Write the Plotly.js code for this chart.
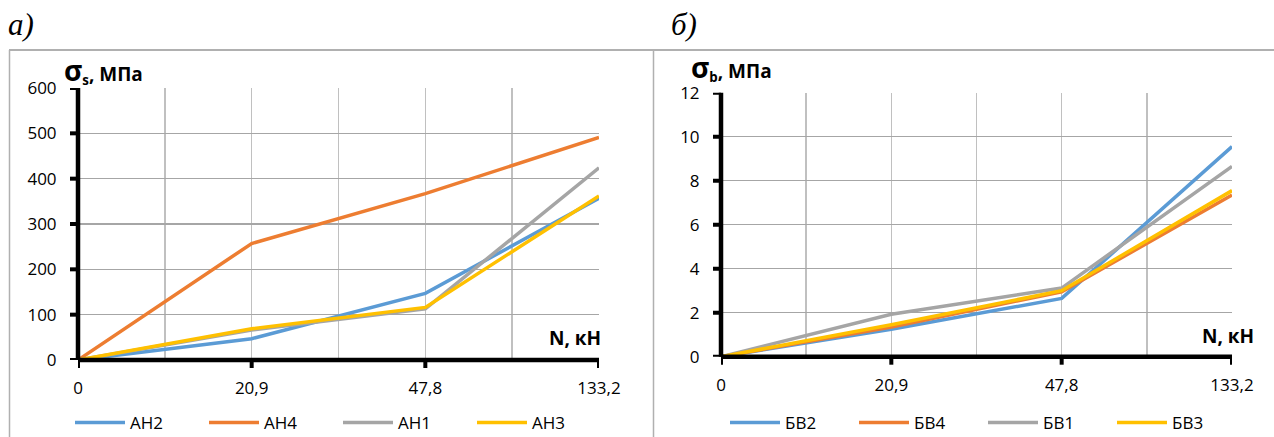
<!DOCTYPE html>
<html><head><meta charset="utf-8">
<script src="https://cdn.plot.ly/plotly-3.0.1.min.js"></script>
<style>html,body{margin:0;padding:0;background:#fff;}#chart{width:1274px;height:437px;}</style>
</head><body><div id="chart"></div>
<script>
// Categories (x) — evenly spaced category axis
const categories = ['0', '20,9', '47,8', '133,2'];
const catIndex = [0, 1, 2, 3];

// Chart a) sigma_s, MPa
const AH2 = [0, 47, 147, 357];
const AH4 = [0, 257, 367, 491];
const AH1 = [0, 66, 113, 424];
const AH3 = [0, 69, 116, 362];

// Chart б) sigma_b, MPa
const BV2 = [0, 1.25, 2.65, 9.55];
const BV4 = [0, 1.35, 2.95, 7.35];
const BV1 = [0, 1.93, 3.12, 8.65];
const BV3 = [0, 1.45, 3.0, 7.55];

// Y tick values
const yTicksA = [0, 100, 200, 300, 400, 500, 600];
const yTicksB = [0, 2, 4, 6, 8, 10, 12];

const namesA = ['АН2', 'АН4', 'АН1', 'АН3'];
const namesB = ['БВ2', 'БВ4', 'БВ1', 'БВ3'];
const colors = ['#5B9BD5', '#ED7D31', '#A5A5A5', '#FFC000'];

const font = 'Open Sans, Liberation Sans, sans-serif';
const W = 1274, H = 437;

const traces = [];
[AH2, AH4, AH1, AH3].forEach((ys, i) => traces.push({
  x: catIndex, y: ys, type: 'scatter', mode: 'lines', name: namesA[i],
  line: {color: colors[i], width: 3.5}, xaxis: 'x', yaxis: 'y', legend: 'legend'
}));
[BV2, BV4, BV1, BV3].forEach((ys, i) => traces.push({
  x: catIndex, y: ys, type: 'scatter', mode: 'lines', name: namesB[i],
  line: {color: colors[i], width: 3.5}, xaxis: 'x2', yaxis: 'y2', legend: 'legend2'
}));

function xax(domain, anchor) {
  return {
    domain: domain, anchor: anchor, range: [0, 3], fixedrange: true, automargin: false,
    tickmode: 'array', tickvals: catIndex, ticktext: categories,
    ticks: 'outside', ticklen: 5, tickwidth: 1, tickcolor: 'rgba(0,0,0,0)',
    showline: false,
    showgrid: true, gridcolor: '#c0c0c0', gridwidth: 1.5,
    minor: {dtick: 0.5, tick0: 0, showgrid: true, gridcolor: '#c0c0c0', gridwidth: 1.5, ticks: ''},
    zeroline: false, tickfont: {family: font, size: 17, color: '#000'},
    ticklabelstandoff: 8
  };
}
function yax(domain, anchor, ticks) {
  return {
    domain: domain, anchor: anchor, range: [ticks[0], ticks[ticks.length - 1]], fixedrange: true, automargin: false,
    tickmode: 'array', tickvals: ticks,
    ticks: 'outside', ticklen: 5, tickwidth: 1, tickcolor: 'rgba(0,0,0,0)',
    showline: false,
    showgrid: true, gridcolor: '#a6a6a6', gridwidth: 1.5,
    zeroline: false, tickfont: {family: font, size: 17, color: '#000'},
    ticklabelstandoff: 12
  };
}

const px = v => v / W, py = v => 1 - v / H;

// Thick black axis lines and tick marks, anchored to each subplot's axes
function axisShapes(xr, yr, yTicks) {
  const s = [];
  const base = {type: 'line', layer: 'above', line: {color: '#000', width: 4.5}};
  s.push(Object.assign({}, base, {xref: xr + ' domain', yref: yr + ' domain', x0: 0, x1: 0, y0: 0, y1: 1}));
  s.push(Object.assign({}, base, {xref: xr + ' domain', yref: yr + ' domain', x0: 0, x1: 1, y0: 0, y1: 0}));
  yTicks.forEach(v => s.push({type: 'line', layer: 'above', xref: xr + ' domain', yref: yr,
    xsizemode: 'pixel', xanchor: 0, x0: -8, x1: 0, y0: v, y1: v, line: {color: '#000', width: 4}}));
  catIndex.forEach(v => s.push({type: 'line', layer: 'above', xref: xr, yref: yr + ' domain',
    ysizemode: 'pixel', yanchor: 0, y0: -8, y1: 0, x0: v, x1: v, line: {color: '#000', width: 4}}));
  return s;
}

const layout = {
  width: W, height: H, margin: {l: 0, r: 0, t: 0, b: 0, autoexpand: false},
  paper_bgcolor: '#fff', plot_bgcolor: 'rgba(0,0,0,0)',
  showlegend: true,
  xaxis: xax([px(78), px(599)], 'y'),
  yaxis: yax([py(360), py(88)], 'x', yTicksA),
  xaxis2: xax([px(721), px(1232)], 'y2'),
  yaxis2: yax([py(356.7), py(92.7)], 'x2', yTicksB),
  legend: {
    orientation: 'h', x: px(70), y: py(423), xanchor: 'left', yanchor: 'middle',
    entrywidth: 69, entrywidthmode: 'pixels', itemwidth: 50,
    font: {family: font, size: 17, color: '#000'}, bgcolor: 'rgba(0,0,0,0)'
  },
  legend2: {
    orientation: 'h', x: px(725), y: py(423), xanchor: 'left', yanchor: 'middle',
    entrywidth: 64, entrywidthmode: 'pixels', itemwidth: 50,
    font: {family: font, size: 17, color: '#000'}, bgcolor: 'rgba(0,0,0,0)'
  },
  shapes: [
    {type: 'line', xref: 'paper', yref: 'paper', x0: px(9), x1: 1, y0: py(50), y1: py(50), line: {color: '#b0b0b0', width: 2}},
    {type: 'line', xref: 'paper', yref: 'paper', x0: px(9.5), x1: px(9.5), y0: py(50), y1: 0, line: {color: '#b0b0b0', width: 1.5}},
    {type: 'line', xref: 'paper', yref: 'paper', x0: px(653.5), x1: px(653.5), y0: py(50), y1: 0, line: {color: '#b0b0b0', width: 1.5}}
  ].concat(axisShapes('x', 'y', yTicksA), axisShapes('x2', 'y2', yTicksB)),
  annotations: [
    {text: '<i>а)</i>', xref: 'paper', yref: 'paper', x: px(6), y: py(24), xanchor: 'left', yanchor: 'middle', showarrow: false,
     font: {family: 'Liberation Serif, Times New Roman, serif', size: 31, color: '#000'}},
    {text: '<i>б)</i>', xref: 'paper', yref: 'paper', x: px(669), y: py(24), xanchor: 'left', yanchor: 'middle', showarrow: false,
     font: {family: 'Liberation Serif, Times New Roman, serif', size: 31, color: '#000'}},
    {text: '<b><span style="font-size:28px">σ</span><sub>s</sub>, МПа</b>', xref: 'paper', yref: 'paper', x: px(62), y: py(70), xanchor: 'left', yanchor: 'middle', showarrow: false,
     font: {family: font, size: 19, color: '#000'}},
    {text: '<b><span style="font-size:28px">σ</span><sub>b</sub>, МПа</b>', xref: 'paper', yref: 'paper', x: px(689), y: py(67), xanchor: 'left', yanchor: 'middle', showarrow: false,
     font: {family: font, size: 19, color: '#000'}},
    {text: '<b>N, кН</b>', xref: 'paper', yref: 'paper', x: px(603), y: py(338), xanchor: 'right', yanchor: 'middle', showarrow: false,
     font: {family: font, size: 19, color: '#000'}},
    {text: '<b>N, кН</b>', xref: 'paper', yref: 'paper', x: px(1256), y: py(336), xanchor: 'right', yanchor: 'middle', showarrow: false,
     font: {family: font, size: 19, color: '#000'}}
  ]
};

Plotly.newPlot('chart', traces, layout, {displayModeBar: false, staticPlot: true});
</script>
</body></html>
